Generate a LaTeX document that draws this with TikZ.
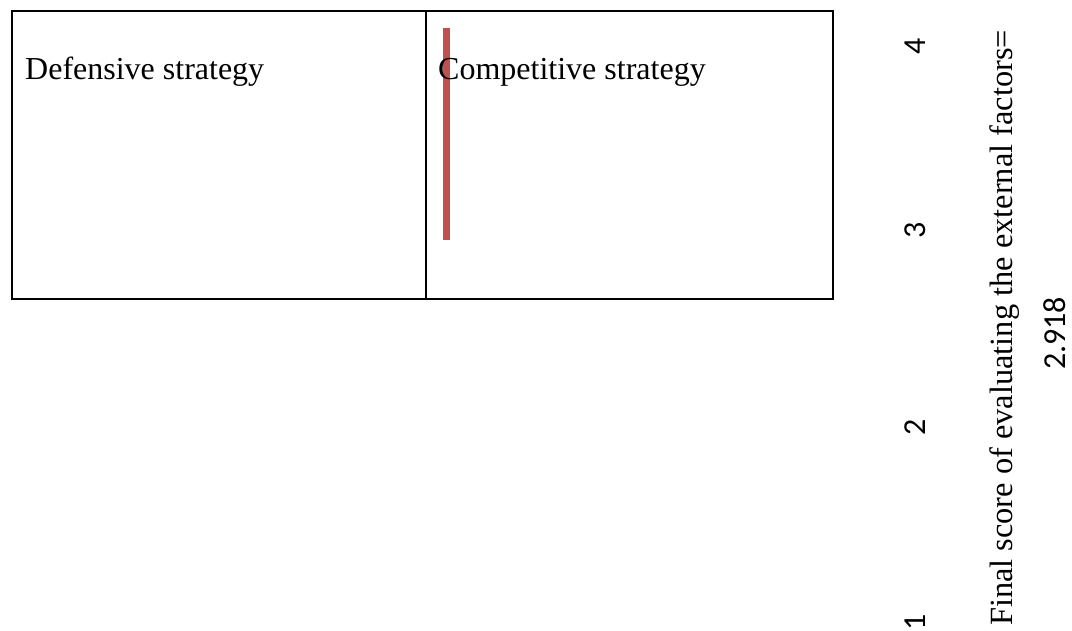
\documentclass[tikz,border=0pt]{standalone}
\usepackage{fontspec}
\setmainfont{Liberation Serif}
\newfontfamily\calibrifont{Carlito}
\definecolor{barred}{RGB}{192,80,77}
\begin{document}
\begin{tikzpicture}[x=1pt,y=-1pt,
  celltext/.style={anchor=base west,inner sep=0pt,font=\fontsize{32}{38}\selectfont},
  axisnum/.style={anchor=base,inner sep=0pt,rotate=90,font=\calibrifont\fontsize{32}{38}\selectfont},
  sidetext/.style={anchor=base,inner sep=0pt,rotate=90,font=\fontsize{32.4}{38}\selectfont},
  gridline/.style={line width=2pt,draw=black}]
\useasboundingbox (0,0) rectangle (1072,630);
\fill[white] (0,0) rectangle (1072,630);
% table
\draw[gridline] (12,11) rectangle (833,299);
\draw[gridline] (426,11) -- (426,299);
% red bar
\fill[barred] (443,28) rectangle (449.5,240);
% cell labels
\node[celltext] (def) at (25,79) {Defensive strategy};
\node[celltext] (comp) at (438,79) {Competitive strategy};
% axis numbers
\node[axisnum] (n4) at (925,46) {4};
\node[axisnum] (n3) at (925,230) {3};
\node[axisnum] (n2) at (925,427) {2};
\node[axisnum] (n1) at (925,622) {1};
% side text
\node[sidetext] (final) at (1012,328) {Final score of evaluating the external factors=};
\node[axisnum] (score) at (1065,333.5) {2.918};
\end{tikzpicture}
\end{document}
